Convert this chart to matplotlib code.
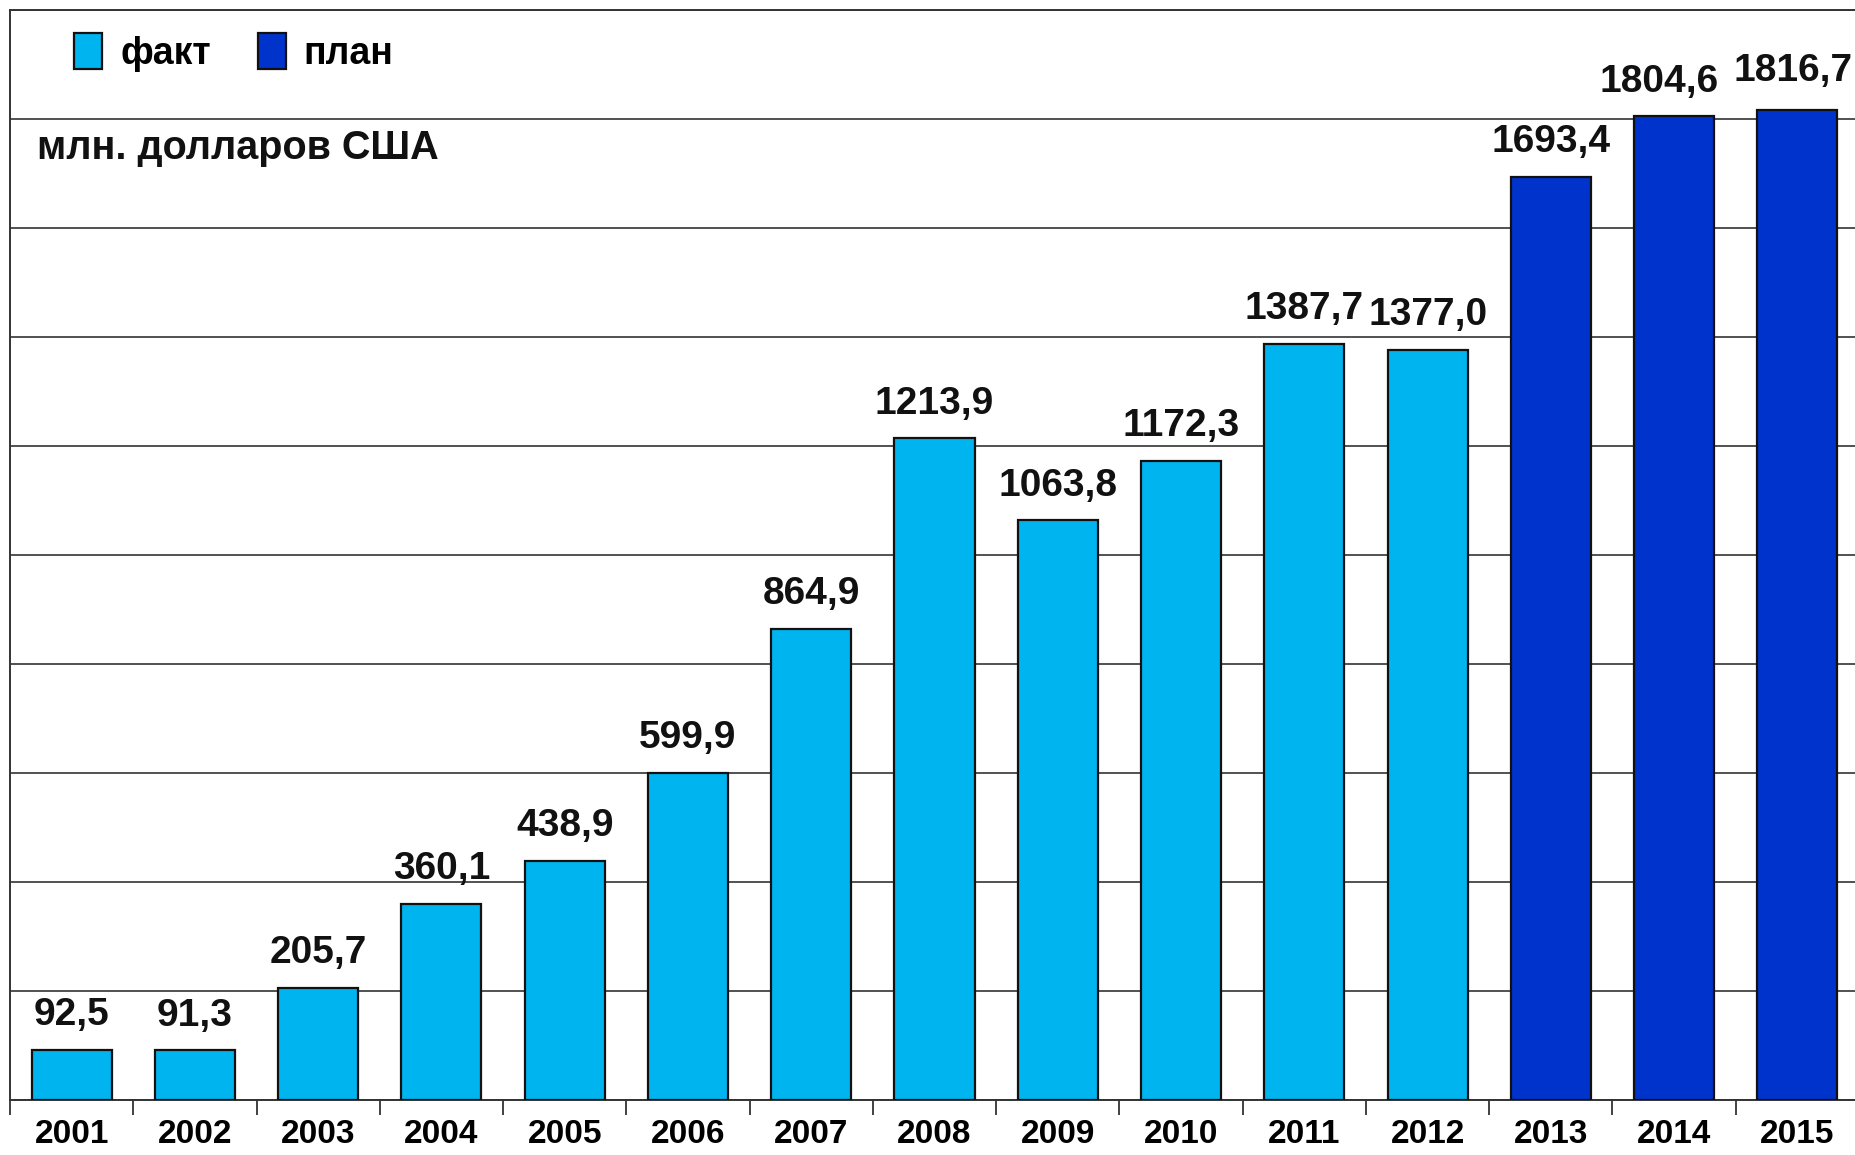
import matplotlib
matplotlib.use("Agg")
import matplotlib.pyplot as plt
import numpy as np
from matplotlib.patches import Patch

years = ["2001", "2002", "2003", "2004", "2005", "2006", "2007", "2008",
         "2009", "2010", "2011", "2012", "2013", "2014", "2015"]
values = [92.5, 91.3, 205.7, 360.1, 438.9, 599.9, 864.9, 1213.9,
          1063.8, 1172.3, 1387.7, 1377.0, 1693.4, 1804.6, 1816.7]
kind = ["факт"] * 12 + ["план"] * 3

colors = {"факт": "#00B4F0", "план": "#0033CC"}

plt.rcParams['font.family'] = ['Liberation Sans', 'DejaVu Sans']
plt.rcParams['font.weight'] = 'bold'

fig = plt.figure(figsize=(18.56, 11.55), dpi=100)
W, H = 1856, 1155
ax = fig.add_axes([10 / W, 1 - 1100 / H, 1849 / W, 1090 / H])

x = np.arange(len(years))
bar_colors = [colors[k] for k in kind]
bars = ax.bar(x, values, width=0.65, color=bar_colors, edgecolor="#111111",
              linewidth=1.6, zorder=3)

# the last two labels sit a little off-centre in the original
nudge = {13: (-11, 12), 14: (-3, 15)}
for i, (xi, v) in enumerate(zip(x, values)):
    off = nudge.get(i, (0, 12))
    ax.annotate(f"{v:.1f}".replace(".", ","), (xi, v), xytext=off,
                textcoords="offset points", ha="center", va="bottom",
                fontsize=28, fontweight="bold", color="#111111")

ax.set_xlim(-0.5, len(years) - 0.5)
ax.set_ylim(0, 2000)
ax.set_yticks(np.arange(0, 2001, 200))
ax.yaxis.grid(True, color="#333333", linewidth=1.2, zorder=0)
ax.tick_params(axis="y", left=False, labelleft=False)

ax.set_xticks(x)
ax.set_xticklabels(years, fontsize=24, fontweight="bold")
ax.set_xticks(np.arange(-0.5, len(years)), minor=True)
ax.tick_params(axis="x", which="major", length=0, pad=14)
ax.tick_params(axis="x", which="minor", length=11, width=1.3, color="#333333")

for s in ["left", "top", "bottom"]:
    ax.spines[s].set_color("#333333")
    ax.spines[s].set_linewidth(1.4)
ax.spines["right"].set_visible(False)

handles = [Patch(facecolor=colors["факт"], edgecolor="#111111", linewidth=1.6, label="факт"),
           Patch(facecolor=colors["план"], edgecolor="#111111", linewidth=1.6, label="план")]
fig.legend(handles=handles, loc="upper left", bbox_to_anchor=(74 / W, 1 - 33 / H),
           ncol=2, frameon=False, handlelength=0.75, handleheight=1.1,
           handletextpad=0.48, columnspacing=1.25, borderpad=0, borderaxespad=0,
           prop={"weight": "bold", "size": 27})

fig.text(37 / W, 1 - 159 / H, "млн. долларов США", fontsize=28.5, fontweight="bold",
         va="baseline", ha="left", color="#111111")

fig.savefig("out.png", dpi=100)
